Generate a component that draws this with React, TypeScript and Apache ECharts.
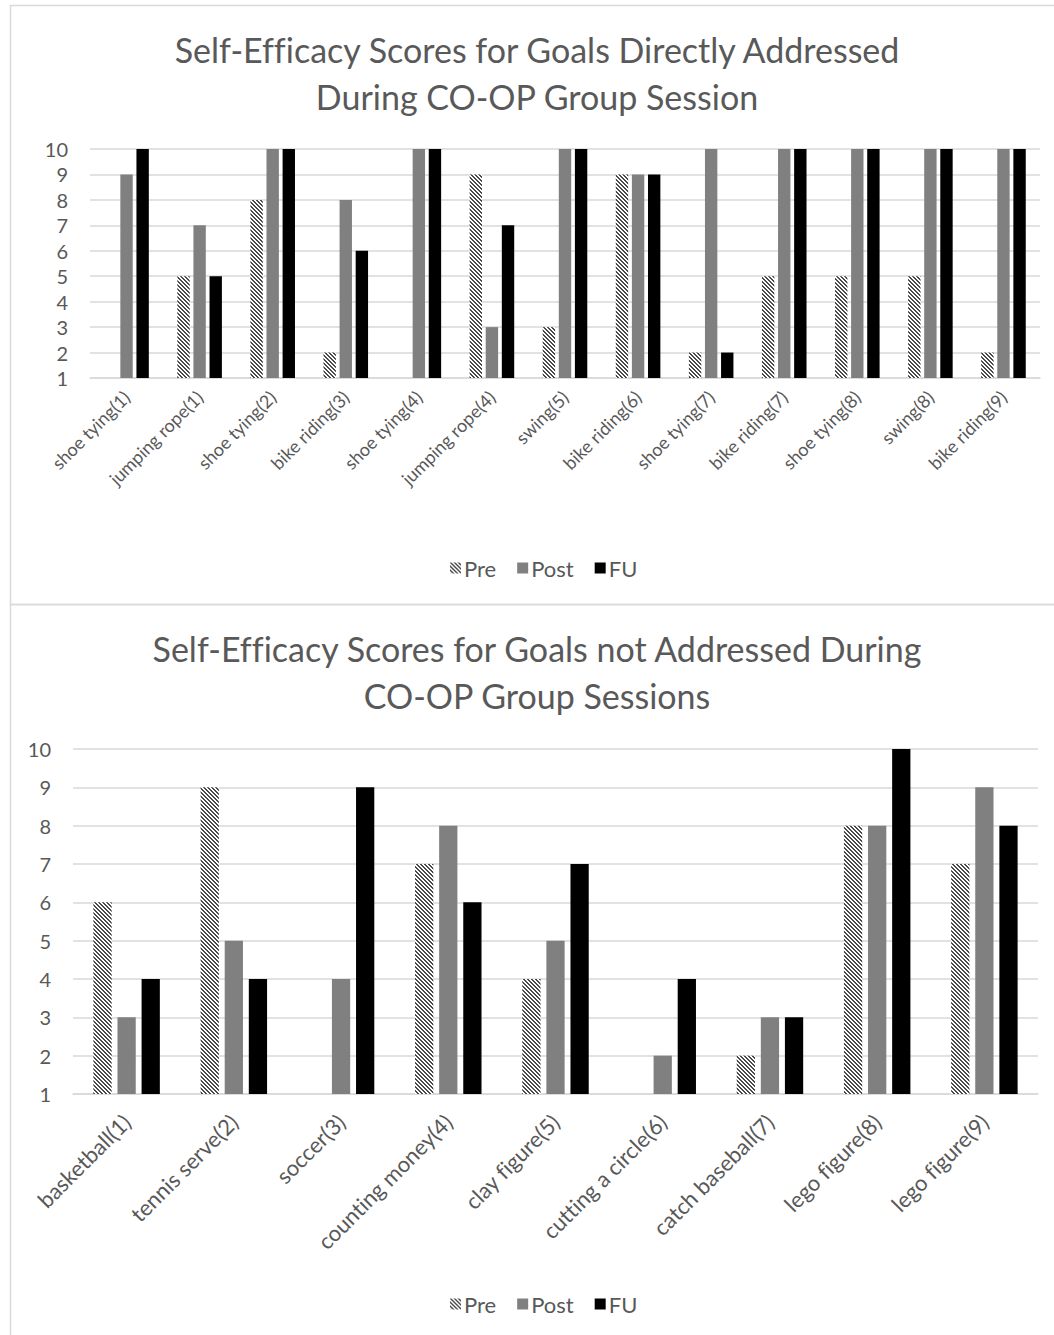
import React, { useEffect, useRef } from "react";
import * as echarts from "echarts";

// Goals worked on in the group sessions
const directGoals = [
  "shoe tying(1)",
  "jumping rope(1)",
  "shoe tying(2)",
  "bike riding(3)",
  "shoe tying(4)",
  "jumping rope(4)",
  "swing(5)",
  "bike riding(6)",
  "shoe tying(7)",
  "bike riding(7)",
  "shoe tying(8)",
  "swing(8)",
  "bike riding(9)",
];
const directPre = [1, 5, 8, 2, 1, 9, 3, 9, 2, 5, 5, 5, 2];
const directPost = [9, 7, 10, 8, 10, 3, 10, 9, 10, 10, 10, 10, 10];
const directFU = [10, 5, 10, 6, 10, 7, 10, 9, 2, 10, 10, 10, 10];

// Goals not worked on in the group sessions
const otherGoals = [
  "basketball(1)",
  "tennis serve(2)",
  "soccer(3)",
  "counting money(4)",
  "clay figure(5)",
  "cutting a circle(6)",
  "catch baseball(7)",
  "lego figure(8)",
  "lego figure(9)",
];
const otherPre: (number | string)[] = [6, 9, "-", 7, 4, "-", 2, 8, 7];
const otherPost = [3, 5, 4, 8, 5, 2, 3, 8, 9];
const otherFU = [4, 4, 9, 6, 7, 4, 3, 10, 8];

const scoreTicks = [1, 2, 3, 4, 5, 6, 7, 8, 9, 10];
const seriesNames = ["Pre", "Post", "FU"];

const titleTop = ["Self-Efficacy Scores for Goals Directly Addressed", "During CO-OP Group Session"];
const titleBottom = ["Self-Efficacy Scores for Goals not Addressed During", "CO-OP Group Sessions"];

const FONT = "Lato, 'Open Sans', sans-serif";
const TEXT = "#595959";
const GRID = "#d9d9d9";

// Small tile with downward diagonal stripes for the "Pre" bars
function hatchCanvas(): HTMLCanvasElement {
  const c = document.createElement("canvas");
  c.width = 8;
  c.height = 8;
  const ctx = c.getContext("2d")!;
  ctx.fillStyle = "#ffffff";
  ctx.fillRect(0, 0, 8, 8);
  ctx.fillStyle = "#4a4a4a";
  for (let y = 0; y < 8; y++) {
    for (let x = 0; x < 8; x++) {
      if ((((x - y) % 4) + 4) % 4 < 2) ctx.fillRect(x, y, 1, 1);
    }
  }
  return c;
}

export default function App() {
  const ref = useRef<HTMLDivElement>(null);

  useEffect(() => {
    if (!ref.current) return;
    const chart = echarts.init(ref.current, undefined, { renderer: "svg" });
    const hatch = { image: hatchCanvas(), repeat: "repeat" } as any;
    const colors = [hatch, "#808080", "#000000"];

    const yAxisBase = {
      type: "value" as const,
      min: 1,
      max: 10,
      interval: 1,
      axisLine: { show: false },
      axisTick: { show: false },
      splitLine: { lineStyle: { color: GRID, width: 1.5 } },
      axisLabel: {
        fontFamily: FONT,
        fontSize: 20,
        color: TEXT,
        margin: 22,
        formatter: (v: number) => (scoreTicks.includes(v) ? String(v) : ""),
      },
    };

    const xAxisBase = (data: string[], gridIndex: number, fontSize: number, margin: number) => ({
      type: "category" as const,
      gridIndex,
      data,
      axisLine: { lineStyle: { color: GRID, width: 1.5 } },
      axisTick: { show: false },
      axisLabel: {
        interval: 0,
        rotate: 45,
        fontFamily: FONT,
        fontSize,
        color: TEXT,
        margin,
      },
    });

    const makeSeries = (
      values: (number | string)[][],
      idx: number,
      barGap: string,
      barCategoryGap: string
    ) =>
      values.map((vals, i) => ({
        name: seriesNames[i],
        type: "bar" as const,
        xAxisIndex: idx,
        yAxisIndex: idx,
        data: vals,
        clip: true,
        barGap,
        barCategoryGap,
        itemStyle: { color: colors[i] },
      }));

    const legendBase = {
      data: seriesNames,
      icon: "rect",
      itemWidth: 11,
      itemHeight: 11,
      itemGap: 21,
      textStyle: { fontFamily: FONT, fontSize: 22, color: TEXT, padding: [0, 0, 0, -2] },
      selectedMode: false,
    };

    const titleText = (lines: string[], y0: number) =>
      lines.map((t, i) => ({
        type: "text",
        x: 537,
        y: y0 + i * 47,
        style: {
          text: t,
          fontFamily: FONT,
          fontSize: 34,
          fill: TEXT,
          textAlign: "center",
          textVerticalAlign: "middle",
        },
      }));

    chart.setOption({
      animation: false,
      backgroundColor: "#ffffff",
      grid: [
        { left: 90, right: 14, top: 149, height: 229 },
        { left: 73, right: 16, top: 749, height: 345 },
      ],
      xAxis: [xAxisBase(directGoals, 0, 18, 16), xAxisBase(otherGoals, 1, 22, 24)],
      yAxis: [
        { ...yAxisBase, gridIndex: 0 },
        { ...yAxisBase, gridIndex: 1 },
      ],
      legend: [
        { ...legendBase, left: 445, top: 552 },
        { ...legendBase, left: 445, top: 1288 },
      ],
      series: [
        ...makeSeries([directPre, directPost, directFU], 0, "30%", "39%"),
        ...makeSeries([otherPre, otherPost, otherFU], 1, "32%", "38%"),
      ],
      graphic: [
        {
          type: "rect",
          shape: { x: 10.5, y: 5.5, width: 1060, height: 599 },
          style: { fill: "none", stroke: GRID, lineWidth: 1.5 },
          silent: true,
        },
        {
          type: "rect",
          shape: { x: 10.5, y: 604.5, width: 1060, height: 740 },
          style: { fill: "none", stroke: GRID, lineWidth: 1.5 },
          silent: true,
        },
        ...titleText(titleTop, 49),
        ...titleText(titleBottom, 648),
      ],
    });

    return () => chart.dispose();
  }, []);

  return (
    <>
      <style>{"svg text { font-variant-ligatures: none !important; }"}</style>
      <div
        ref={ref}
        style={{ position: "absolute", left: 0, top: 0, width: 1054, height: 1335, background: "#fff" }}
      />
    </>
  );
}
